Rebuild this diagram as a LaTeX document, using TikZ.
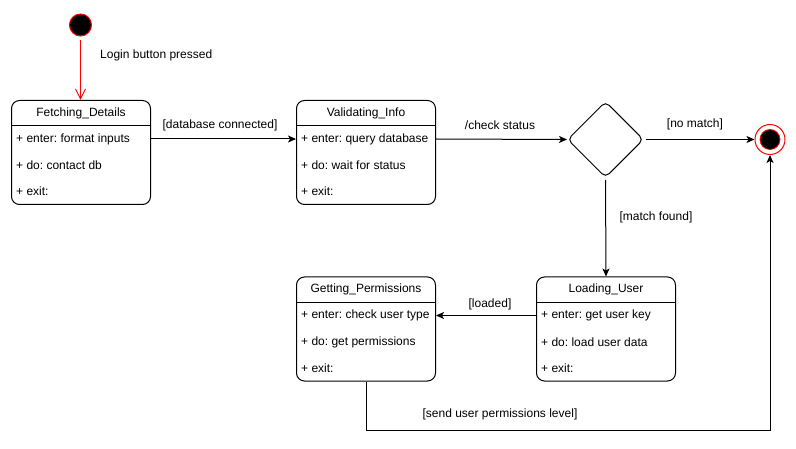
\documentclass[tikz,border=0pt]{standalone}
\usepackage{fontspec}
\setmainfont{Liberation Sans}
\usetikzlibrary{arrows.meta,shapes.geometric,calc}
\frenchspacing
\tikzset{
  every picture/.style={x=1pt,y=-1pt},
  txt/.style={inner sep=0pt, font=\fontsize{12}{14}\selectfont\frenchspacing},
  box/.style={draw, rounded corners=8pt, minimum width=139pt, minimum height=104pt, anchor=north west, inner sep=0pt, line width=1pt},
  row/.style={txt, anchor=west},
  arr/.style={-{Stealth[length=8pt,width=7pt,inset=2pt]}, line width=1pt},
}
\newcommand\mystate[7]{%
  \node[box] (#1) at (#2,#3) {};
  \draw[line width=1pt] ($(#1.north west)+(0,26)$) -- ($(#1.north east)+(0,26)$);
  \node[txt] (#1-t) at ($(#1.north)+(0,13)$) {#4};
  \node[row] (#1-a) at ($(#1.north west)+(5,39)$) {#5};
  \node[row] (#1-b) at ($(#1.north west)+(5,65.5)$) {#6};
  \node[row] (#1-c) at ($(#1.north west)+(5,91.5)$) {#7};
}
\begin{document}
\begin{tikzpicture}
\useasboundingbox[fill=white] (0,0) rectangle (796,449);

% initial state
\node[circle, draw=red, fill=black, minimum size=22pt, inner sep=0pt, line width=1pt] (ini) at (80.5,25) {};

\mystate{fd}{11}{100}{Fetching\_Details}{+ enter: format inputs}{+ do: contact db}{+ exit:}
\mystate{vi}{296}{100}{Validating\_Info}{+ enter: query database}{+ do: wait for status}{+ exit:}
\mystate{lu}{536}{276.5}{Loading\_User}{+ enter: get user key}{+ do: load user data}{+ exit:}
\mystate{gp}{296}{276.5}{Getting\_Permissions}{+ enter: check user type}{+ do: get permissions}{+ exit:}

% decision
\node[diamond, draw, minimum width=76pt, minimum height=76pt, inner sep=0pt, rounded corners=5pt, line width=1pt] (dec) at (605.5,139.5) {};

% final state
\node[circle, draw=red, fill=white, minimum size=30pt, inner sep=0pt, line width=1pt] (fin) at (770,139.5) {};
\node[circle, draw=red, fill=black, minimum size=20pt, inner sep=0pt, line width=0.8pt] (finin) at (fin) {};

% connectors
\draw[red, line width=1pt, -{Straight Barb[length=10pt,width=10pt]}, shorten <=4pt] (ini) -- (fd.north -| ini);
\node[txt, anchor=west] (l0) at (100,55) {Login button pressed};

\draw[arr] (fd-a -| fd.east) -- (vi-a -| vi.west);
\node[txt] (l1) at (220,125) {[database connected]};

\draw[arr] (vi-a -| vi.east) -- (dec.west);
\node[txt] (l2) at (500,125) {/check status};

\draw[arr, shorten <=2pt] (dec.east) -- (fin.west);
\node[txt] (l3) at (695,124.5) {[no match]};

\draw[arr, shorten <=2pt] (dec.south) -- (lu.north);
\node[txt] (l4) at (656,217) {[match found]};

\draw[arr] (lu-a -| lu.west) -- (gp-a -| gp.east);
\node[txt] (l5) at (490,304.5) {[loaded]};

\coordinate (c1) at (366.5,430);
\draw[arr] (gp.south -| c1) -- (c1) -| (fin.south);
\node[txt] (l6) at (500,414) {[send user permissions level]};
\end{tikzpicture}
\end{document}
